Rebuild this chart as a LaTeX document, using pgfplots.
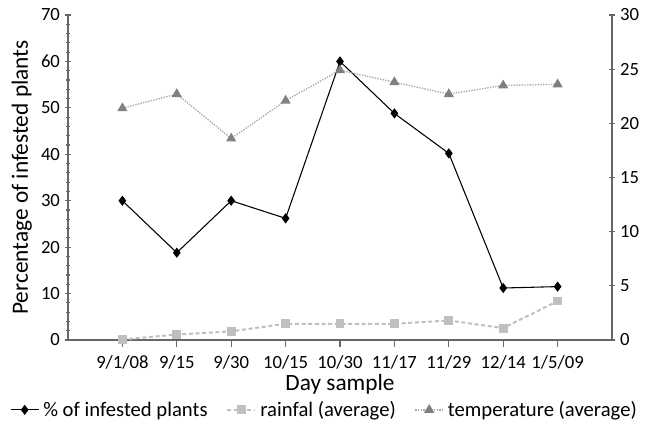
\documentclass[border=0pt]{standalone}
\usepackage{pgfplots}
\pgfplotsset{compat=1.18}
\usepackage{fontspec}
\setmainfont{Carlito}
\definecolor{rainc}{HTML}{BFBFBF}
\definecolor{templine}{HTML}{A6A6A6}
\definecolor{tempmark}{HTML}{808080}
\begin{document}
\begin{tikzpicture}
\pgfplotsset{every axis/.append style={
  width=408pt, height=243.75pt, scale only axis,
  xmin=-1, xmax=9,
  /pgf/number format/assume math mode=true,
  tick label style={font=\fontsize{14}{16}\selectfont},
  label style={font=\fontsize{17.5}{19}\selectfont},
  axis line style={draw=black!60, line width=0.8pt},
  tick style={draw=black!60, line width=0.8pt},
}}
\begin{axis}[
  name=main,
  axis x line*=bottom, axis y line*=left,
  ymin=0, ymax=70, ytick={0,10,...,70},
  minor y tick num=4,
  xtick={0,...,8},
  xticklabels={9/1/08,9/15,9/30,10/15,10/30,11/17,11/29,12/14,1/5/09},
  xtick align=outside, ytick align=center,
  major tick length=5pt, minor tick length=3pt,
  xticklabel style={yshift=-3pt},
  xlabel={Day sample},
  ylabel={Percentage of infested plants},
  xlabel style={yshift=3pt},
  ylabel style={yshift=0pt},
]
\addplot[black, line width=0.8pt, mark=diamond*, mark size=3.2pt, mark options={solid, fill=black}]
coordinates {(0,30) (1,18.8) (2,30) (3,26.2) (4,60) (5,48.8) (6,40.2) (7,11.2) (8,11.5)};
\end{axis}
\begin{axis}[
  axis x line=none, axis y line*=right,
  ymin=0, ymax=30, ytick={0,5,...,30},
  ytick align=center, major tick length=5pt,
  legend columns=3,
  legend style={draw=none, fill=none, at={(0.472,-0.215)}, anchor=center,
    font=\fontsize{15.5}{17}\selectfont, inner sep=0pt,
    /tikz/every odd column/.append style={column sep=1pt},
    /tikz/every even column/.append style={column sep=12pt}},
  legend image code/.code={\draw[mark repeat=2,mark phase=2] plot coordinates {(0cm,0cm) (0.37cm,0cm) (0.74cm,0cm)};},
]
\addlegendimage{black, line width=0.8pt, mark=diamond*, mark size=3.2pt, mark options={solid, fill=black}}
\addlegendentry{\% of infested plants}
\addplot[rainc, line width=1.5pt, dash pattern=on 3pt off 2pt, mark=square*, mark size=2.6pt, mark options={solid, fill=rainc, draw=rainc}]
coordinates {(0,0.05) (1,0.5) (2,0.8) (3,1.5) (4,1.5) (5,1.5) (6,1.8) (7,1.1) (8,3.6)};
\addlegendentry{rainfal (average)}
\addplot[templine, line width=1pt, dash pattern=on 1pt off 1pt, mark=triangle*, mark size=3.4pt, mark options={solid, fill=tempmark, draw=tempmark}]
coordinates {(0,21.4) (1,22.7) (2,18.6) (3,22.1) (4,24.9) (5,23.8) (6,22.7) (7,23.5) (8,23.6)};
\addlegendentry{temperature (average)}
\end{axis}
\pgfresetboundingbox
\path[use as bounding box] ([shift={(-51pt,-69pt)}]main.south west) rectangle ([shift={(433.5pt,255pt)}]main.south west);
\end{tikzpicture}
\end{document}
